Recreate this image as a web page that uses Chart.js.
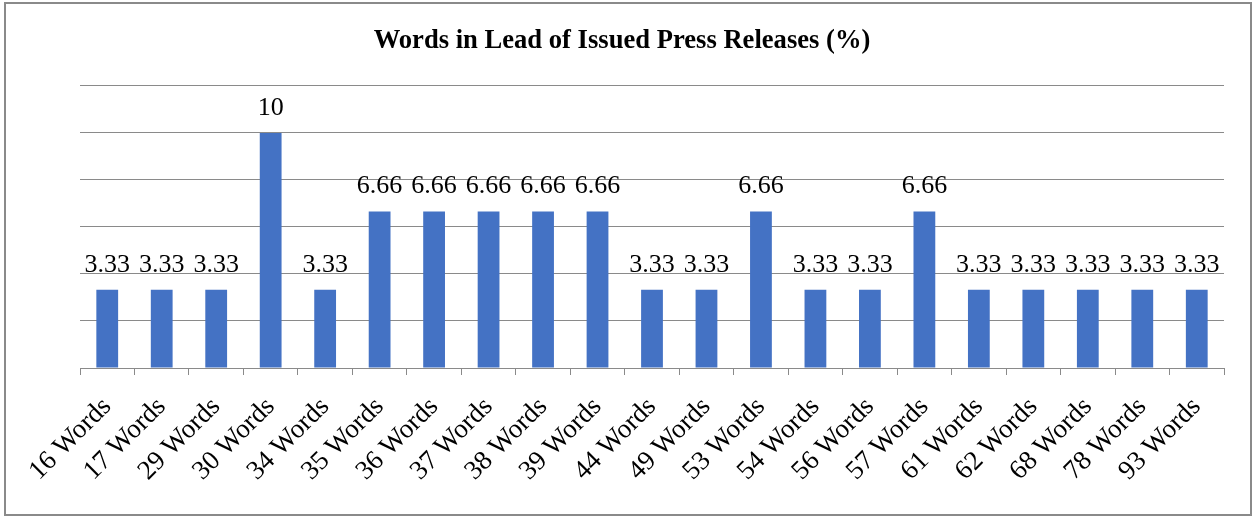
<!DOCTYPE html>
<html>
<head>
<meta charset="utf-8">
<script src="https://cdn.jsdelivr.net/npm/chart.js@4/dist/chart.umd.min.js"></script>
<style>
  html, body { margin: 0; padding: 0; background: #fff; }
  #wrap { position: relative; width: 1254px; height: 518px; }
  #frame { position: absolute; left: 4px; top: 2px; width: 1244px; height: 510px; border: 2px solid #8a8a8a; pointer-events: none; }
  canvas { position: absolute; left: 0; top: 0; }
</style>
</head>
<body>
<div id="wrap">
  <canvas id="chart" width="1254" height="518"></canvas>
  <div id="frame"></div>
</div>
<script>
const categories = ["16 Words", "17 Words", "29 Words", "30 Words", "34 Words", "35 Words", "36 Words",
  "37 Words", "38 Words", "39 Words", "44 Words", "49 Words", "53 Words", "54 Words", "56 Words",
  "57 Words", "61 Words", "62 Words", "68 Words", "78 Words", "93 Words"];
const shares = [3.33, 3.33, 3.33, 10, 3.33, 6.66, 6.66, 6.66, 6.66, 6.66, 3.33, 3.33, 6.66, 3.33,
  3.33, 6.66, 3.33, 3.33, 3.33, 3.33, 3.33];

const serif = "'Liberation Serif', 'Times New Roman', serif";

// value labels above each bar
const barValues = {
  id: "barValues",
  afterDatasetsDraw(chart) {
    const ctx = chart.ctx;
    const meta = chart.getDatasetMeta(0);
    ctx.save();
    ctx.font = "26px " + serif;
    ctx.fillStyle = "#000";
    ctx.textAlign = "center";
    ctx.textBaseline = "alphabetic";
    meta.data.forEach((bar, i) => {
      ctx.fillText(String(shares[i]), bar.x, bar.y - 18);
    });
    ctx.restore();
  }
};

new Chart(document.getElementById("chart"), {
  type: "bar",
  data: {
    labels: categories,
    datasets: [{
      data: shares,
      backgroundColor: "#4472C4",
      barPercentage: 0.4,
      categoryPercentage: 1.0
    }]
  },
  options: {
    responsive: false,
    animation: false,
    layout: { padding: { left: 20, right: 30, top: 0, bottom: 0 } },
    plugins: {
      legend: { display: false },
      tooltip: { enabled: false },
      title: {
        display: true,
        text: "Words in Lead of Issued Press Releases (%)",
        color: "#000",
        font: { family: serif, size: 26.6, weight: "bold", lineHeight: 1.2 },
        padding: { top: 25, bottom: 29 }
      }
    },
    scales: {
      x: {
        grid: { offset: true, drawOnChartArea: false, drawTicks: true, tickLength: 7, color: "#8a8a8a" },
        border: { display: true, color: "#8a8a8a", width: 1 },
        ticks: {
          minRotation: 45,
          maxRotation: 45,
          autoSkip: false,
          padding: 16,
          color: "#000",
          font: { family: serif, size: 27 }
        },
        afterFit(scale) { scale.height = 150; }
      },
      y: {
        min: 0,
        max: 12,
        ticks: { stepSize: 2, display: false },
        grid: { drawTicks: false, color: "#8a8a8a" },
        border: { display: false },
        afterFit(scale) { scale.width = 60; }
      }
    }
  },
  plugins: [barValues]
});
</script>
</body>
</html>
